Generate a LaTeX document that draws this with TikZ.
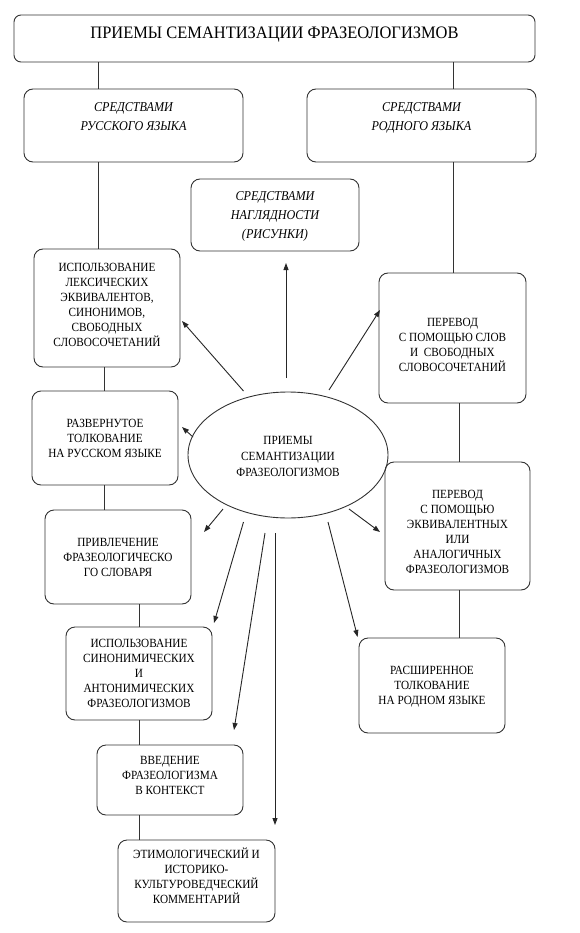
\documentclass[tikz,border=0pt]{standalone}
\usepackage{fontspec}
\setmainfont{Liberation Serif}[FakeStretch=0.9]
\newfontfamily\titlefont{Liberation Serif}[FakeStretch=0.94]
\usetikzlibrary{shapes.geometric,arrows.meta}
\newcommand\tx[2]{\raisebox{#1pt}[0pt][0pt]{\begin{tabular}{@{}c@{}}#2\end{tabular}}}
\begin{document}
\begin{tikzpicture}[x=1pt,y=-1pt,
  box/.style={draw=black!80, line width=0.9pt, rounded corners=9pt, inner sep=0pt, align=center,
    font=\fontsize{12.5}{15}\selectfont},
  ibox/.style={box, font=\fontsize{13.5}{19}\selectfont\itshape},
  tbox/.style={box, rounded corners=7pt, font=\titlefont\fontsize{17.5}{20}\selectfont},
  ell/.style={draw=black!80, line width=0.9pt, ellipse, inner sep=0pt, align=center,
    font=\fontsize{12.5}{16}\selectfont},
  conn/.style={draw=black!80, line width=0.9pt},
  arr/.style={draw=black!85, line width=0.9pt, -{Triangle[length=7pt,width=5pt]}}]
\fill[white] (0,0) rectangle (579,933);
\useasboundingbox (0,0) rectangle (579,933);

% nodes
\node[tbox, minimum width=521pt, minimum height=47pt] (title) at (274.5,38.5)
  {\tx{-0.7}{ПРИЕМЫ СЕМАНТИЗАЦИИ ФРАЗЕОЛОГИЗМОВ}};
\node[ibox, minimum width=219pt, minimum height=73pt] (ruslang) at (133.5,125.5)
  {\tx{4.2}{СРЕДСТВАМИ\\РУССКОГО ЯЗЫКА}};
\node[ibox, minimum width=229pt, minimum height=73pt] (rodlang) at (421.5,125.5)
  {\tx{4.2}{СРЕДСТВАМИ\\РОДНОГО ЯЗЫКА}};
\node[ibox, minimum width=168pt, minimum height=72pt] (nagl) at (275,215)
  {\tx{-3.8}{СРЕДСТВАМИ\\НАГЛЯДНОСТИ\\(РИСУНКИ)}};
\node[box, minimum width=146pt, minimum height=118pt] (lex) at (107,308)
  {\tx{-1.2}{ИСПОЛЬЗОВАНИЕ\\ЛЕКСИЧЕСКИХ\\ЭКВИВАЛЕНТОВ,\\СИНОНИМОВ,\\СВОБОДНЫХ\\СЛОВОСОЧЕТАНИЙ}};
\node[box, minimum width=146pt, minimum height=94pt] (razv) at (105,438)
  {\tx{-4.2}{РАЗВЕРНУТОЕ\\ТОЛКОВАНИЕ\\НА РУССКОМ ЯЗЫКЕ}};
\node[box, minimum width=146pt, minimum height=94pt] (privl) at (118,557)
  {\tx{-4.2}{ПРИВЛЕЧЕНИЕ\\ФРАЗЕОЛОГИЧЕСКО\\ГО СЛОВАРЯ}};
\node[box, minimum width=146pt, minimum height=93pt] (sin) at (139,673.5)
  {\tx{-4.2}{ИСПОЛЬЗОВАНИЕ\\СИНОНИМИЧЕСКИХ\\И\\АНТОНИМИЧЕСКИХ\\ФРАЗЕОЛОГИЗМОВ}};
\node[box, minimum width=146pt, minimum height=70pt] (vved) at (170,780)
  {\tx{0.8}{ВВЕДЕНИЕ\\ФРАЗЕОЛОГИЗМА\\В КОНТЕКСТ}};
\node[box, minimum width=157pt, minimum height=82pt] (etim) at (196.5,881)
  {\tx{-0.2}{ЭТИМОЛОГИЧЕСКИЙ И\\ИСТОРИКО-\\КУЛЬТУРОВЕДЧЕСКИЙ\\КОММЕНТАРИЙ}};
\node[box, minimum width=147pt, minimum height=130pt] (per1) at (452.5,338)
  {\tx{-10.7}{ПЕРЕВОД\\С ПОМОЩЬЮ СЛОВ\\И~~СВОБОДНЫХ\\СЛОВОСОЧЕТАНИЙ}};
\node[box, minimum width=145pt, minimum height=128pt] (per2) at (457.5,526)
  {\tx{-10.2}{ПЕРЕВОД\\С ПОМОЩЬЮ\\ЭКВИВАЛЕНТНЫХ\\ИЛИ\\АНАЛОГИЧНЫХ\\ФРАЗЕОЛОГИЗМОВ}};
\node[box, minimum width=146pt, minimum height=95pt] (rassh) at (432,685.5)
  {\tx{-4.2}{РАСШИРЕННОЕ\\ТОЛКОВАНИЕ\\НА РОДНОМ ЯЗЫКЕ}};
\node[ell, minimum width=200pt, minimum height=126pt] (center) at (288,455)
  {\tx{-5.2}{ПРИЕМЫ\\СЕМАНТИЗАЦИИ\\ФРАЗЕОЛОГИЗМОВ}};

% vertical connector columns
\coordinate (xA) at (98.5,0);
\coordinate (xB) at (453,0);
\coordinate (xC) at (104,0);
\coordinate (xD) at (139,0);
\coordinate (xE) at (459,0);
\draw[conn] (title.south -| xA) -- (ruslang.north -| xA);
\draw[conn] (ruslang.south -| xA) -- (lex.north -| xA);
\draw[conn] (title.south -| xB) -- (rodlang.north -| xB);
\draw[conn] (rodlang.south -| xB) -- (per1.north -| xB);
\draw[conn] (lex.south -| xC) -- (razv.north -| xC);
\draw[conn] (razv.south -| xC) -- (privl.north -| xC);
\draw[conn] (privl.south -| xD) -- (sin.north -| xD);
\draw[conn] (sin.south -| xD) -- (vved.north -| xD);
\draw[conn] (vved.south -| xD) -- (etim.north -| xD);
\draw[conn] (per1.south -| xE) -- (per2.north -| xE);
\draw[conn] (per2.south -| xE) -- (rassh.north -| xE);

% arrows from the ellipse
\coordinate (sUp) at (286,378);    \coordinate (tUp) at (286,263);
\coordinate (sLex) at (243.5,391); \coordinate (tLex) at (182,321);
\coordinate (sP1) at (329,390);    \coordinate (tP1) at (380,310);
\coordinate (sRz) at (193,437);    \coordinate (tRz) at (182,427);
\coordinate (sPv) at (223,509);    \coordinate (tPv) at (204,532);
\coordinate (sP2) at (349,509);    \coordinate (tP2) at (380,532);
\coordinate (sSn) at (243.5,522);  \coordinate (tSn) at (214,623);
\coordinate (sVv) at (265,533);    \coordinate (tVv) at (234,730);
\coordinate (sEt) at (275,533);    \coordinate (tEt) at (275,825);
\coordinate (sRs) at (328,522);    \coordinate (tRs) at (357.6,637);
\draw[arr] (sUp) -- (tUp);
\draw[arr] (sLex) -- (tLex);
\draw[arr] (sP1) -- (tP1);
\draw[arr] (sRz) -- (tRz);
\draw[arr] (sPv) -- (tPv);
\draw[arr] (sP2) -- (tP2);
\draw[arr] (sSn) -- (tSn);
\draw[arr] (sVv) -- (tVv);
\draw[arr] (sEt) -- (tEt);
\draw[arr] (sRs) -- (tRs);
\end{tikzpicture}
\end{document}
